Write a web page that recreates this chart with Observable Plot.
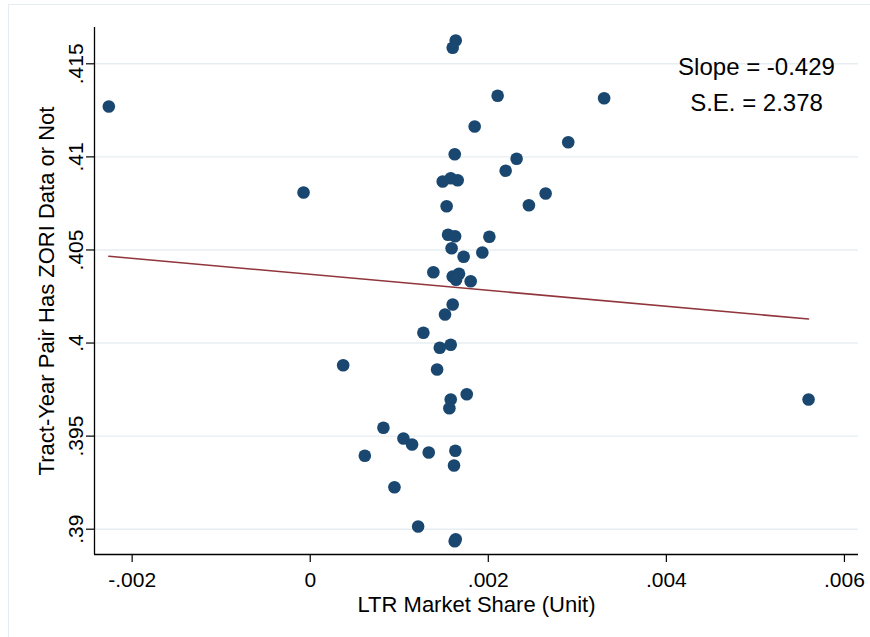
<!DOCTYPE html>
<html><head><meta charset="utf-8">
<script src="https://cdn.jsdelivr.net/npm/d3@7"></script>
<script src="https://cdn.jsdelivr.net/npm/@observablehq/plot@0.6"></script>
<style>
html,body{margin:0;padding:0;background:#fff;}
#wrap{position:relative;width:870px;height:637px;overflow:hidden;background:#fff;}
#border{position:absolute;left:8px;top:4px;width:900px;height:700px;border-left:1px solid #e6edf1;border-top:1px solid #e6edf1;}
#chart{position:absolute;left:0;top:0;}
</style></head><body>
<div id="wrap"><div id="border"></div><div id="chart"></div></div>
<script>
// LTR market share (x) and share of tract-year pairs with ZORI data (y), binned scatter
const ltrShare = [
  -0.002262, -0.0000752, 0.001634, 0.001600, 0.002105, 0.001847, 0.001623, 0.002318, 0.002195, 0.001488,
  0.001578, 0.001656, 0.001532, 0.002456, 0.001548, 0.001627, 0.002012, 0.001588, 0.001723, 0.001933,
  0.001383, 0.001600, 0.001671, 0.001638, 0.001802, 0.001600, 0.001514, 0.001271, 0.001455, 0.001578,
  0.000370, 0.001425, 0.001758, 0.001578, 0.001563, 0.005597, 0.000822, 0.001047, 0.001144, 0.001331,
  0.001630, 0.000613, 0.001615, 0.000946, 0.001212, 0.001634, 0.001623, 0.003301, 0.002898, 0.002644
];
const zoriShare = [
  0.412706, 0.408087, 0.416252, 0.415859, 0.413282, 0.411632, 0.410144, 0.409897, 0.409252, 0.408678,
  0.408855, 0.408747, 0.407351, 0.407405, 0.405815, 0.405739, 0.405707, 0.405095, 0.404633, 0.404864,
  0.403805, 0.403575, 0.403720, 0.403397, 0.403322, 0.402070, 0.401533, 0.400550, 0.399744, 0.399906,
  0.398810, 0.398579, 0.397252, 0.396967, 0.396500, 0.396967, 0.395447, 0.394872, 0.394550, 0.394120,
  0.394211, 0.393943, 0.393422, 0.392256, 0.390145, 0.389463, 0.389355, 0.413152, 0.410789, 0.408033
];
// fitted line
const fitSlope = -0.429;
const fitIntercept = 0.40369;
const slopeLabel = "Slope = -0.429";
const seLabel = "S.E. = 2.378";

const xTicks = [-0.002, 0, 0.002, 0.004, 0.006];
const xTickLabels = ["-.002", "0", ".002", ".004", ".006"];
const yTicks = [0.39, 0.395, 0.4, 0.405, 0.41, 0.415];
const yTickLabels = [".39", ".395", ".4", ".405", ".41", ".415"];
const xDomain = [-0.002423, 0.006158];
const yDomain = [0.388641, 0.41695];
const xTitle = "LTR Market Share (Unit)";
const yTitle = "Tract-Year Pair Has ZORI Data or Not";

const points = ltrShare.map((x, i) => ({x, y: zoriShare[i]}));
const xExt = d3.extent(ltrShare);
const fit = xExt.map(x => ({x, y: fitIntercept + fitSlope * x}));

const chart = Plot.plot({
  width: 870, height: 637,
  marginLeft: 94, marginRight: 12, marginTop: 27, marginBottom: 83,
  style: {fontFamily: "'Liberation Sans', Arial, sans-serif", background: "transparent", color: "#000", overflow: "visible"},
  x: {domain: xDomain},
  y: {domain: yDomain},
  marks: [
    Plot.gridY(yTicks, {stroke: "#e7eef2", strokeOpacity: 1, strokeWidth: 1.4}),
    Plot.ruleX([xDomain[0]], {stroke: "#000", strokeWidth: 1.3}),
    Plot.ruleY([yDomain[0]], {stroke: "#000", strokeWidth: 1.3}),
    Plot.axisX(xTicks, {tickSize: 8, tickPadding: 10, fontSize: 21, stroke: "#000", strokeWidth: 1.2,
      tickFormat: d => xTickLabels[xTicks.indexOf(d)], label: null}),
    Plot.axisY(yTicks, {tickSize: 8, stroke: "#000", strokeWidth: 1.2, tickFormat: () => "", label: null}),
    Plot.text(yTicks, {y: d => d, text: d => yTickLabels[yTicks.indexOf(d)], frameAnchor: "left",
      dx: -12, rotate: -90, lineAnchor: "bottom", textAnchor: "middle", fontSize: 21, fill: "#000"}),
    Plot.dot(points, {x: "x", y: "y", r: 6.3, fill: "#1a476f", stroke: "none"}),
    Plot.line(fit, {x: "x", y: "y", stroke: "#90353b", strokeWidth: 1.6}),
    Plot.text([slopeLabel + "\n" + seLabel], {text: d => d, frameAnchor: "top-right", dx: -102, dy: 83,
      lineAnchor: "bottom", lineHeight: 1.5, textAnchor: "middle", fontSize: 24, fill: "#000"}),
    Plot.text([xTitle], {text: d => d, frameAnchor: "bottom", dy: 57, lineAnchor: "bottom", textAnchor: "middle", fontSize: 22, fill: "#000"}),
    Plot.text([yTitle], {text: d => d, frameAnchor: "left", dx: -41, rotate: -90, lineAnchor: "bottom", textAnchor: "middle", fontSize: 22, fill: "#000"})
  ]
});
document.getElementById("chart").appendChild(chart);
</script>
</body></html>
